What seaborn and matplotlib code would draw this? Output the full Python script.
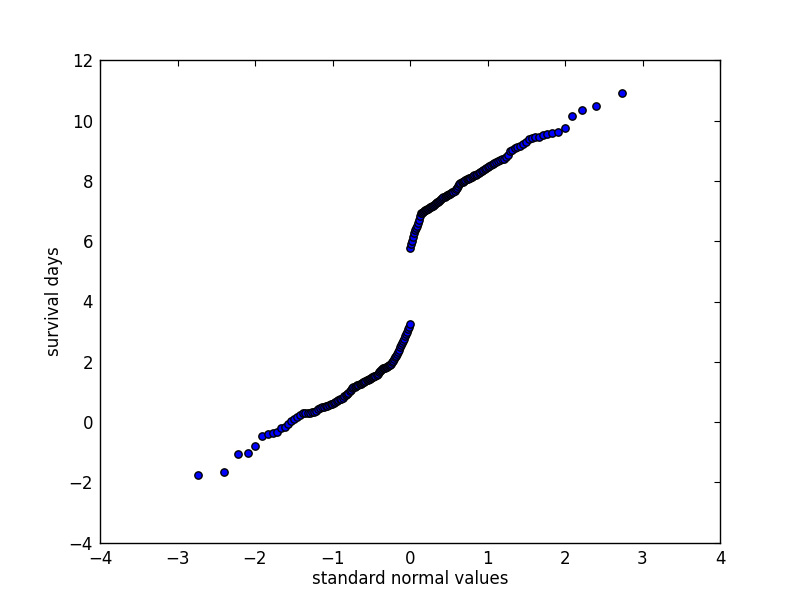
import matplotlib
matplotlib.use("Agg")
import matplotlib.pyplot as plt
import seaborn as sns
import pandas as pd

# normal quantiles (x) and sorted survival days (y)
normal_lo = [-2.735, -2.404, -2.223, -2.095, -1.994, -1.910, -1.837, -1.773, -1.716, -1.664,
             -1.616, -1.571, -1.530, -1.491, -1.454, -1.418, -1.385, -1.353, -1.322, -1.293,
             -1.265, -1.237, -1.211, -1.185, -1.160, -1.136, -1.113, -1.090, -1.067, -1.045,
             -1.024, -1.003, -0.983, -0.962, -0.943, -0.923, -0.904, -0.886, -0.867, -0.849,
             -0.831, -0.814, -0.796, -0.779, -0.763, -0.746, -0.730, -0.713, -0.697, -0.681,
             -0.666, -0.650, -0.635, -0.620, -0.604, -0.589, -0.575, -0.560, -0.545, -0.531,
             -0.517, -0.502, -0.488, -0.474, -0.460, -0.446, -0.432, -0.419, -0.405, -0.392,
             -0.378, -0.365, -0.351, -0.338, -0.325, -0.312, -0.299, -0.286, -0.272, -0.260,
             -0.247, -0.234, -0.221, -0.208, -0.195, -0.183, -0.170, -0.157, -0.145, -0.132,
             -0.119, -0.107, -0.094, -0.082, -0.069, -0.056, -0.044, -0.031, -0.019, -0.006]
days_lo = [-1.74, -1.67, -1.06, -1.04, -0.80, -0.46, -0.40, -0.35, -0.32, -0.21,
           -0.15, -0.06, 0.03, 0.10, 0.16, 0.25, 0.29, 0.30, 0.30, 0.31,
           0.32, 0.33, 0.38, 0.45, 0.47, 0.49, 0.51, 0.53, 0.55, 0.57,
           0.59, 0.61, 0.64, 0.67, 0.70, 0.73, 0.75, 0.77, 0.80, 0.85,
           0.90, 0.94, 0.98, 1.02, 1.08, 1.13, 1.16, 1.18, 1.20, 1.22,
           1.24, 1.26, 1.28, 1.30, 1.32, 1.34, 1.36, 1.38, 1.40, 1.42,
           1.44, 1.46, 1.48, 1.50, 1.52, 1.54, 1.56, 1.60, 1.65, 1.70,
           1.74, 1.77, 1.79, 1.80, 1.81, 1.82, 1.83, 1.85, 1.88, 1.91,
           1.94, 1.98, 2.04, 2.10, 2.15, 2.20, 2.25, 2.32, 2.40, 2.48,
           2.55, 2.61, 2.68, 2.75, 2.84, 2.92, 2.99, 3.08, 3.17, 3.24]

normal_hi = [0.006, 0.019, 0.031, 0.044, 0.056, 0.069, 0.082, 0.094, 0.107, 0.119,
             0.132, 0.145, 0.157, 0.170, 0.183, 0.195, 0.208, 0.221, 0.234, 0.247,
             0.260, 0.272, 0.286, 0.299, 0.312, 0.325, 0.338, 0.351, 0.365, 0.378,
             0.392, 0.405, 0.419, 0.432, 0.446, 0.460, 0.474, 0.488, 0.502, 0.517,
             0.531, 0.545, 0.560, 0.575, 0.589, 0.604, 0.620, 0.635, 0.650, 0.666,
             0.681, 0.697, 0.713, 0.730, 0.746, 0.763, 0.779, 0.796, 0.814, 0.831,
             0.849, 0.867, 0.886, 0.904, 0.923, 0.943, 0.962, 0.983, 1.003, 1.024,
             1.045, 1.067, 1.090, 1.113, 1.136, 1.160, 1.185, 1.211, 1.237, 1.265,
             1.293, 1.322, 1.353, 1.385, 1.418, 1.454, 1.491, 1.530, 1.571, 1.616,
             1.664, 1.716, 1.773, 1.837, 1.910, 1.994, 2.095, 2.223, 2.404, 2.735]
days_hi = [5.78, 5.90, 6.02, 6.15, 6.27, 6.37, 6.45, 6.52, 6.62, 6.71,
           6.82, 6.92, 6.95, 6.98, 7.00, 7.02, 7.04, 7.06, 7.08, 7.10,
           7.12, 7.14, 7.16, 7.18, 7.20, 7.23, 7.26, 7.29, 7.31, 7.33,
           7.36, 7.39, 7.42, 7.45, 7.48, 7.50, 7.52, 7.54, 7.56, 7.58,
           7.60, 7.62, 7.64, 7.67, 7.72, 7.78, 7.84, 7.89, 7.93, 7.96,
           7.98, 8.00, 8.03, 8.05, 8.07, 8.09, 8.11, 8.13, 8.15, 8.18,
           8.21, 8.24, 8.27, 8.30, 8.33, 8.36, 8.40, 8.44, 8.47, 8.50,
           8.53, 8.56, 8.59, 8.62, 8.65, 8.68, 8.71, 8.74, 8.78, 8.86,
           8.98, 9.04, 9.08, 9.13, 9.17, 9.22, 9.28, 9.38, 9.43, 9.45,
           9.47, 9.51, 9.54, 9.58, 9.63, 9.74, 10.16, 10.35, 10.49, 10.92]

x_ticks = [-4, -3, -2, -1, 0, 1, 2, 3, 4]
y_ticks = [-4, -2, 0, 2, 4, 6, 8, 10, 12]

df = pd.DataFrame({"normal": normal_lo + normal_hi, "days": days_lo + days_hi})

sns.set_style("white")
plt.rcParams["font.family"] = ["DejaVu Sans"]
plt.rcParams["xtick.direction"] = "in"
plt.rcParams["ytick.direction"] = "in"
plt.rcParams["text.color"] = "black"
plt.rcParams["axes.labelcolor"] = "black"
plt.rcParams["xtick.color"] = "black"
plt.rcParams["ytick.color"] = "black"

fig = plt.figure(figsize=(8, 6.03), dpi=100)
ax = fig.add_axes([0.125, 0.1, 0.775, 0.8])

sns.scatterplot(data=df, x="normal", y="days", ax=ax, color="#0000ff",
                edgecolor="black", linewidth=1.0, s=28, zorder=3)

ax.set_xlim(-4, 4)
ax.set_ylim(-4, 12)
ax.set_xticks(x_ticks)
ax.set_yticks(y_ticks)
ax.tick_params(axis="both", which="major", labelsize=12, length=4, width=0.8,
               color="black", labelcolor="black", top=True, right=True, pad=5)
for sp in ax.spines.values():
    sp.set_color("black")
    sp.set_linewidth(1.0)
ax.set_xlabel("standard normal values", fontsize=12, labelpad=2)
ax.set_ylabel("survival days", fontsize=12, labelpad=4)

fig.savefig("out.png", dpi=100, facecolor="white")
